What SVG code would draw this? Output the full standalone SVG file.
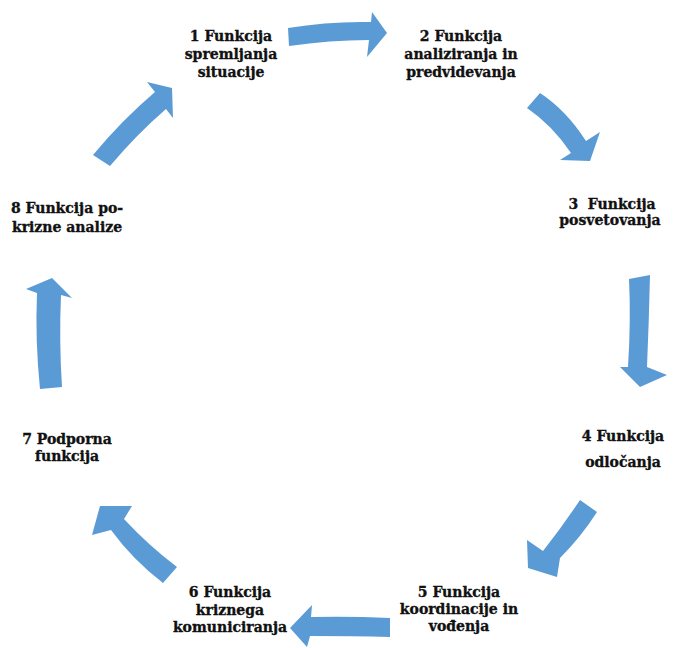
<svg xmlns="http://www.w3.org/2000/svg" width="678" height="648" viewBox="0 0 678 648">
  <style>
    .arrow { fill: #5B9BD5; }
    .label { font-family: "DejaVu Serif", "Liberation Serif", serif; font-weight: bold; font-size: 14px; fill: #111; stroke: #111; stroke-width: 0.35px; text-anchor: middle; }
  </style>
  <rect width="678" height="648" fill="#fff"/>

  <!-- cycle connectors: curved block arrows -->
  <g id="connectors">
    <path class="arrow" d="M288,28 Q330,21 371,22 L372,12 L387,33 L367,57 L369,40 Q330,40 289,46 Z"/>
    <path class="arrow" d="M540,93 Q566,110 586,141 L600,132 L590,161 L560,160 L571,153 Q552,125 527,108 Z"/>
    <path class="arrow" d="M629,279 L650,275 Q649,320 647,367 L667,375 L640,387 L620,367 L628,367 Q631,320 629,279 Z"/>
    <path class="arrow" d="M580,500 L597,512 Q581,537 560,558 L557,577 L528,568 L527,540 L543,551 Q562,527 580,500 Z"/>
    <path class="arrow" d="M390,618 L390,637 Q352,636 310,636 L307,647 L290,628 L312,605 L311,617 Q350,616 390,618 Z"/>
    <path class="arrow" d="M177,567 L163,583 Q133,560 111,530 L92,535 L100,506 L132,506 L124,519 Q148,545 177,567 Z"/>
    <path class="arrow" d="M40,389 L62,387 Q59,340 61,295 L72,298 L52,278 L26,289 L37,293 Q35,340 40,389 Z"/>
    <path class="arrow" d="M93,155 L110,166 Q137,134 166,109 L173,118 L172,88 L147,82 L155,92 Q122,120 93,155 Z"/>
  </g>

  <g id="node1">
    <text class="label" x="231" y="41">1 Funkcija</text>
    <text class="label" x="231" y="59">spremljanja</text>
    <text class="label" x="231" y="77">situacije</text>
  </g>
  <g id="node2">
    <text class="label" x="461" y="41">2 Funkcija</text>
    <text class="label" x="461" y="59">analiziranja in</text>
    <text class="label" x="461" y="77">predvidevanja</text>
  </g>
  <g id="node3">
    <text class="label" x="612" y="209" xml:space="preserve">3  Funkcija</text>
    <text class="label" x="610" y="225">posvetovanja</text>
  </g>
  <g id="node4">
    <text class="label" x="623" y="441">4 Funkcija</text>
    <text class="label" x="623" y="467">odločanja</text>
  </g>
  <g id="node5">
    <text class="label" x="459" y="597">5 Funkcija</text>
    <text class="label" x="459" y="614">koordinacije in</text>
    <text class="label" x="459" y="631">vođenja</text>
  </g>
  <g id="node6">
    <text class="label" x="230" y="597">6 Funkcija</text>
    <text class="label" x="230" y="615">kriznega</text>
    <text class="label" x="230" y="632">komuniciranja</text>
  </g>
  <g id="node7">
    <text class="label" x="67" y="444">7 Podporna</text>
    <text class="label" x="67" y="461">funkcija</text>
  </g>
  <g id="node8">
    <text class="label" x="67" y="213">8 Funkcija po-</text>
    <text class="label" x="67" y="232">krizne analize</text>
  </g>
</svg>
